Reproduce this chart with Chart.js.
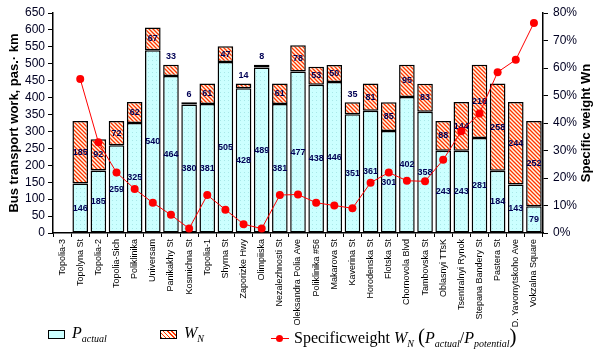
<!DOCTYPE html>
<html>
<head>
<meta charset="utf-8">
<script src="https://cdn.jsdelivr.net/npm/chart.js@4/dist/chart.umd.min.js"></script>
<style>
    body { margin: 0; background: #fff; }
    #wrap { position: relative; width: 601px; height: 352px; }
    #legend {
        position: absolute; left: 0; top: 322px; width: 601px; height: 28px;
        font-family: "Liberation Serif", "Times New Roman", serif; font-size: 16px; color: #000;
    }
    #legend .item { position: absolute; top: 2px; white-space: nowrap; }
    #legend i { font-style: italic; }
    #legend sub { font-size: 10px; font-style: italic; }
    .box { display: inline-block; width: 15px; height: 7px; border: 1px solid #000; vertical-align: middle; margin-right: 7px; }
</style>
</head>
<body>
<div id="wrap">
    <canvas id="busChart" width="601" height="352"></canvas>
    <div id="legend">
        <div class="item" style="left:48px"><span class="box" id="boxP"></span><i>P</i><sub>actual</sub></div>
        <div class="item" style="left:160px"><span class="box" id="boxW"></span><i>W</i><sub>N</sub></div>
        <div class="item" style="left:271px">
            <span style="display:inline-block;position:relative;width:18px;height:8px;vertical-align:middle;margin-right:5px">
                <span style="position:absolute;left:0;top:3px;width:18px;height:1px;background:#f00"></span>
                <span style="position:absolute;left:5px;top:0;width:7px;height:7px;border-radius:50%;background:#f00"></span>
            </span>Specificweight <i>W</i><sub>N</sub> <span style="font-size:21px">(</span><i>P</i><sub>actual</sub>/<i>P</i><sub>potential</sub><span style="font-size:21px">)</span>
        </div>
    </div>
</div>
<script>
// --- Data ---
const stops = ['Topolia-3', 'Topolyna St', 'Topolia-2', 'Topolia-Sich', 'Poliklinika', 'Universam',
    'Panikakhy St', 'Kosmichna St', 'Topolia-1', 'Shyrna St', 'Zaporizke Hwy', 'Olimpiiska',
    'Nezalezhnosti St', 'Oleksandra Polia Ave', 'Poliklinika #56', 'Makarova St', 'Kaverina St',
    'Horodenska St', 'Flotska St', 'Chornovola Blvd', 'Tambovska St', 'Oblasnyi TTsK',
    'Tsentralnyi Rynok', 'Stepana Bandery St', 'Pastera St', 'D. Yavornytskoho Ave', 'Vokzalna Square'];

const pActual = [null, 146, 185, 259, 325, 540, 464, 380, 381, 505, 428, 489, 381, 477, 438, 446,
    351, 361, 301, 402, 358, 243, 243, 281, 184, 143, 79];

const wN = [null, 185, 92, 72, 62, 67, 33, 6, 61, 47, 14, 8, 61, 78, 53, 50,
    35, 81, 85, 95, 83, 88, 144, 216, 258, 244, 252];

// specific weight, %
const specWeight = [null, 56, 33, 22, 16, 11, 6.6, 1.6, 13.8, 8.5, 3.2, 1.6, 13.8, 14, 11, 10,
    9, 18.3, 22, 19, 18.8, 26.6, 37, 43.5, 58.5, 63, 76.4];

const leftTicks = [0, 50, 100, 150, 200, 250, 300, 350, 400, 450, 500, 550, 600, 650];
const rightTicks = [0, 10, 20, 30, 40, 50, 60, 70, 80];

document.addEventListener('DOMContentLoaded', () => {

    // --- Patterns ---
    const makeDots = () => {
        const c = document.createElement('canvas');
        c.width = 4; c.height = 4;
        const g = c.getContext('2d');
        g.fillStyle = '#ccffff';
        g.fillRect(0, 0, 4, 4);
        g.fillStyle = '#a8e8e8';
        g.fillRect(0, 0, 1, 1);
        return g.createPattern(c, 'repeat');
    };
    const makeHatch = () => {
        const c = document.createElement('canvas');
        c.width = 4; c.height = 4;
        const g = c.getContext('2d');
        g.fillStyle = '#fffbe8';
        g.fillRect(0, 0, 4, 4);
        g.strokeStyle = '#ff3300';
        g.lineWidth = 1.3;
        g.beginPath();
        g.moveTo(-1, -1); g.lineTo(5, 5);
        g.moveTo(-1, 3); g.lineTo(1, 5);
        g.moveTo(3, -1); g.lineTo(5, 1);
        g.stroke();
        return g.createPattern(c, 'repeat');
    };
    const dots = makeDots();
    const hatch = makeHatch();

    document.getElementById('boxP').style.background = '#ccffff';
    document.getElementById('boxW').style.background =
        'repeating-linear-gradient(45deg, #ff3300 0 1px, #fffbe8 1px 3px)';

    // --- Value labels inside / above bars (after the last bar dataset is drawn) ---
    const barLabels = {
        id: 'barLabels',
        afterDatasetDraw(chart, args) {
            if (args.index !== 0) return;
            const ctx = chart.ctx;
            ctx.save();
            ctx.font = 'bold 9px Arial, "Liberation Sans"';
            ctx.fillStyle = '#000055';
            ctx.textAlign = 'center';
            ctx.textBaseline = 'middle';
            const y = chart.scales.y;
            chart.getDatasetMeta(0).data.forEach((bar, i) => {
                const p = pActual[i];
                if (p == null) return;
                ctx.fillText(p, bar.x, y.getPixelForValue(p / 2));
                const w = wN[i];
                if (w < 40) {
                    ctx.fillText(w, bar.x, y.getPixelForValue(p + w) - 8);
                } else {
                    ctx.fillText(w, bar.x, y.getPixelForValue(p + w / 2));
                }
            });
            ctx.restore();
        }
    };

    // --- Axis titles (both read bottom-to-top) ---
    const axisTitles = {
        id: 'axisTitles',
        afterDraw(chart) {
            const ctx = chart.ctx;
            const a = chart.chartArea;
            const cy = (a.top + a.bottom) / 2;
            ctx.save();
            ctx.font = 'bold 13px Arial, "Liberation Sans"';
            ctx.fillStyle = '#000';
            ctx.textAlign = 'center';
            ctx.textBaseline = 'middle';
            [[14, 'Bus transport work, pas.· km'], [586, 'Specific weight Wn']].forEach(([x, t]) => {
                ctx.save();
                ctx.translate(x, cy);
                ctx.rotate(-Math.PI / 2);
                ctx.fillText(t, 0, 0);
                ctx.restore();
            });
            ctx.restore();
        }
    };

    const ctx = document.getElementById('busChart').getContext('2d');
    new Chart(ctx, {
        data: {
            labels: stops,
            datasets: [
                {
                    type: 'bar',
                    label: 'P actual',
                    data: pActual,
                    backgroundColor: dots,
                    borderColor: '#000',
                    borderWidth: 1.5,
                    borderSkipped: false,
                    yAxisID: 'y',
                    stack: 's',
                    order: 1,
                    barPercentage: 0.86,
                    categoryPercentage: 1
                },
                {
                    type: 'bar',
                    label: 'W N',
                    data: wN,
                    backgroundColor: hatch,
                    borderColor: '#000',
                    borderWidth: 1.5,
                    borderSkipped: false,
                    yAxisID: 'y',
                    stack: 's',
                    order: 1,
                    barPercentage: 0.86,
                    categoryPercentage: 1
                },
                {
                    type: 'line',
                    label: 'Specific weight',
                    data: specWeight,
                    borderColor: '#ff0000',
                    backgroundColor: '#ff0000',
                    borderWidth: 1,
                    pointRadius: 4,
                    pointBorderWidth: 0,
                    tension: 0,
                    yAxisID: 'y1',
                    order: 0
                }
            ]
        },
        options: {
            responsive: false,
            animation: false,
            layout: { padding: { top: 13, left: 0, right: 0, bottom: 0 } },
            plugins: { legend: { display: false }, tooltip: { enabled: false } },
            scales: {
                x: {
                    stacked: true,
                    offset: true,
                    grid: { offset: true, drawOnChartArea: false, color: '#000', tickLength: 4, tickWidth: 1 },
                    border: { color: '#000', width: 1.5 },
                    ticks: {
                        autoSkip: false, maxRotation: 90, minRotation: 90, padding: 2,
                        color: '#000', font: { family: 'Arial, "Liberation Sans"', size: 9 }
                    },
                    afterFit: (s) => { s.height = 119; }
                },
                y: {
                    stacked: true,
                    min: 0, max: 650,
                    afterBuildTicks: (s) => { s.ticks = leftTicks.map(v => ({ value: v })); },
                    grid: { drawOnChartArea: false, color: '#000', tickLength: 5 },
                    border: { color: '#000', width: 1.5 },
                    ticks: { autoSkip: false, color: '#000022', padding: 3, font: { family: 'Arial, "Liberation Sans"', size: 12 } },
                    afterFit: (s) => { s.width = 53; }
                },
                y1: {
                    position: 'right',
                    min: 0, max: 80,
                    afterBuildTicks: (s) => { s.ticks = rightTicks.map(v => ({ value: v })); },
                    grid: { drawOnChartArea: false, color: '#000', tickLength: 5 },
                    border: { color: '#000', width: 1.5 },
                    ticks: {
                        autoSkip: false, color: '#000022', padding: 5, callback: (v) => v + '%',
                        font: { family: 'Arial, "Liberation Sans"', size: 12 }
                    },
                    afterFit: (s) => { s.width = 58; }
                }
            }
        },
        plugins: [barLabels, axisTitles]
    });

});
</script>
</body>
</html>
